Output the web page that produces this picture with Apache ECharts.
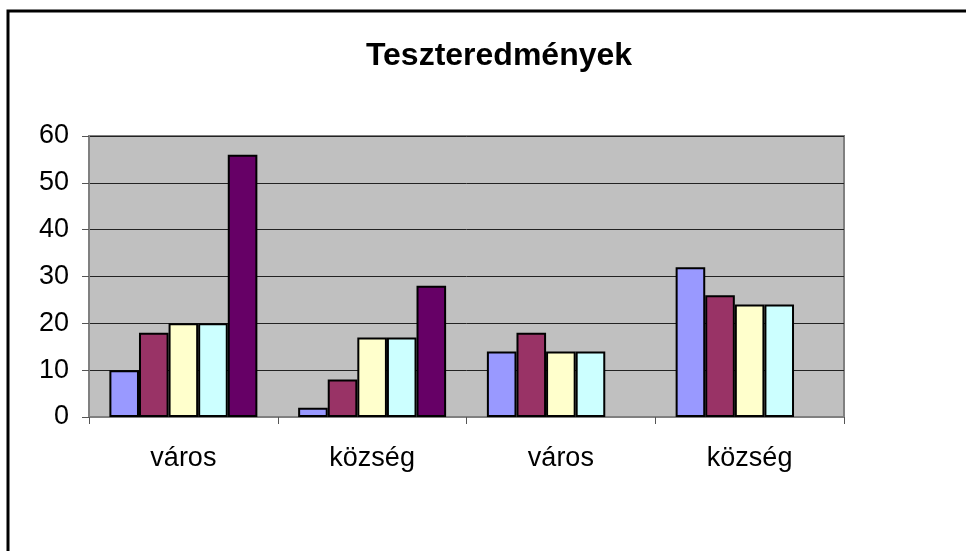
<!DOCTYPE html>
<html>
<head>
<meta charset="utf-8">
<script src="https://cdn.jsdelivr.net/npm/echarts@6/dist/echarts.min.js"></script>
<style>
  html, body { margin: 0; padding: 0; background: #fff; }
  #chart { width: 966px; height: 551px; }
</style>
</head>
<body>
<div id="chart"></div>
<script>
const title = 'Teszteredmények'
const categories = ['város', 'község', 'város', 'község']
const seriesNames = ['Adatsor1', 'Adatsor2', 'Adatsor3', 'Adatsor4', 'Adatsor5']
const seriesColors = ['#9999FF', '#993366', '#FFFFCC', '#CCFFFF', '#660066']
const adatsor1 = [10, 2, 14, 32]
const adatsor2 = [18, 8, 18, 26]
const adatsor3 = [20, 17, 14, 24]
const adatsor4 = [20, 17, 14, 24]
const adatsor5 = [56, 28, null, null]
const yTicks = [0, 10, 20, 30, 40, 50, 60]

const values = [adatsor1, adatsor2, adatsor3, adatsor4, adatsor5]
const font = 'Liberation Sans, Arial, sans-serif'

const chart = echarts.init(document.getElementById('chart'))
chart.setOption({
  animation: false,
  backgroundColor: '#fff',
  title: {
    text: title,
    left: 494,
    top: 35,
    textAlign: 'center',
    textStyle: { fontFamily: font, fontSize: 32, fontWeight: 'bold', color: '#000' }
  },
  graphic: [
    {
      type: 'rect',
      shape: { x: 8, y: 11, width: 1000, height: 600 },
      style: { fill: 'none', stroke: '#000', lineWidth: 3 },
      silent: true
    }
  ],
  grid: {
    left: 89,
    right: 122,
    top: 136,
    bottom: 134,
    show: true,
    backgroundColor: '#C0C0C0',
    borderColor: '#808080',
    borderWidth: 2
  },
  xAxis: {
    type: 'category',
    data: categories,
    axisLine: { show: true, lineStyle: { color: '#808080', width: 2 } },
    axisTick: { show: true, length: 7, lineStyle: { color: '#555', width: 1 } },
    axisLabel: { margin: 28, fontFamily: font, fontSize: 27, color: '#000' },
    splitLine: { show: false }
  },
  yAxis: {
    type: 'value',
    min: yTicks[0],
    max: yTicks[yTicks.length - 1],
    interval: 10,
    axisLine: { show: true, lineStyle: { color: '#808080', width: 2 } },
    axisTick: { show: true, length: 7, lineStyle: { color: '#555', width: 1 } },
    axisLabel: { margin: 20, fontFamily: font, fontSize: 27, color: '#000' },
    splitLine: { show: true, lineStyle: { color: '#222', width: 1 } }
  },
  series: seriesNames.map((name, i) => ({
    name: name,
    type: 'bar',
    data: values[i],
    barGap: '0%',
    barCategoryGap: '21.6%',
    itemStyle: { color: seriesColors[i], borderColor: '#000', borderWidth: 2 }
  }))
})
</script>
</body>
</html>
